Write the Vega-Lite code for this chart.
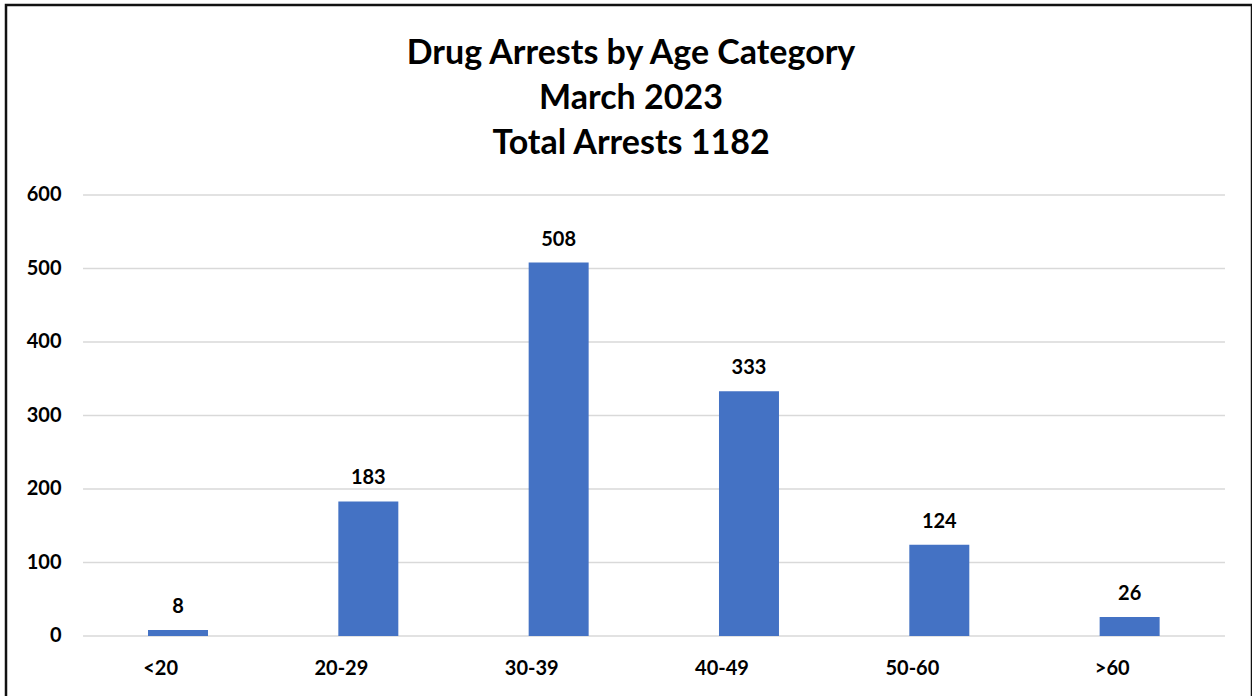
{
  "$schema": "https://vega.github.io/schema/vega-lite/v6.json",
  "width": 1246,
  "height": 700,
  "autosize": {"type": "none"},
  "padding": {"left": 6, "top": 5, "right": 0, "bottom": 0},
  "background": "white",
  "config": {
    "view": {"stroke": "#111111", "strokeWidth": 2.5},
    "font": "Lato"
  },
  "title": {
    "text": ["Drug Arrests by Age Category", "March 2023", "Total Arrests 1182"],
    "font": "Lato",
    "fontSize": 34,
    "fontWeight": "bold",
    "color": "#000000",
    "lineHeight": 45,
    "anchor": "middle",
    "frame": "group",
    "offset": -156,
    "dx": 2
  },
  "datasets": {
    "arrests": [
      {"age": "<20", "arrests": 8},
      {"age": "20-29", "arrests": 183},
      {"age": "30-39", "arrests": 508},
      {"age": "40-49", "arrests": 333},
      {"age": "50-60", "arrests": 124},
      {"age": ">60", "arrests": 26}
    ],
    "gridlines": [
      {"v": 0}, {"v": 100}, {"v": 200}, {"v": 300}, {"v": 400}, {"v": 500}, {"v": 600}
    ]
  },
  "layer": [
    {
      "data": {"name": "gridlines"},
      "mark": {"type": "rule", "color": "#d9d9d9", "strokeWidth": 1.5},
      "encoding": {
        "y": {"field": "v", "type": "quantitative"},
        "x": {"datum": "<20", "type": "nominal", "bandPosition": -1.0833},
        "x2": {"datum": ">60", "bandPosition": 2.089}
      }
    },
    {
      "data": {"name": "arrests"},
      "mark": {"type": "bar", "color": "#4472C4"},
      "encoding": {
        "x": {
          "field": "age",
          "type": "nominal",
          "sort": null,
          "scale": {
            "domain": ["<20", "20-29", "30-39", "40-49", "50-60", ">60"],
            "paddingInner": 0.6848,
            "paddingOuter": 0.6157,
            "align": 0.6059
          },
          "axis": {
            "orient": "bottom",
            "offset": -69,
            "labelPadding": 38,
            "labelBaseline": "alphabetic",
            "labelAngle": 0,
            "ticks": false,
            "domain": false,
            "grid": false,
            "title": null,
            "labelFont": "Lato",
            "labelFontSize": 20,
            "labelFontWeight": "bold",
            "labelColor": "#000000"
          }
        },
        "y": {
          "field": "arrests",
          "type": "quantitative",
          "scale": {"domain": [-93.88, 858.5], "nice": false, "zero": false},
          "axis": {
            "values": [0, 100, 200, 300, 400, 500, 600],
            "offset": -77,
            "labelPadding": 22,
            "ticks": false,
            "domain": false,
            "grid": false,
            "title": null,
            "labelFont": "Lato",
            "labelFontSize": 20,
            "labelFontWeight": "bold",
            "labelColor": "#000000"
          }
        }
      }
    },
    {
      "data": {"name": "arrests"},
      "mark": {
        "type": "text",
        "baseline": "alphabetic",
        "dy": -17,
        "font": "Lato",
        "fontSize": 20,
        "fontWeight": "bold",
        "color": "#000000"
      },
      "encoding": {
        "x": {"field": "age", "type": "nominal", "sort": null},
        "y": {"field": "arrests", "type": "quantitative"},
        "text": {"field": "arrests", "type": "quantitative"}
      }
    }
  ]
}
